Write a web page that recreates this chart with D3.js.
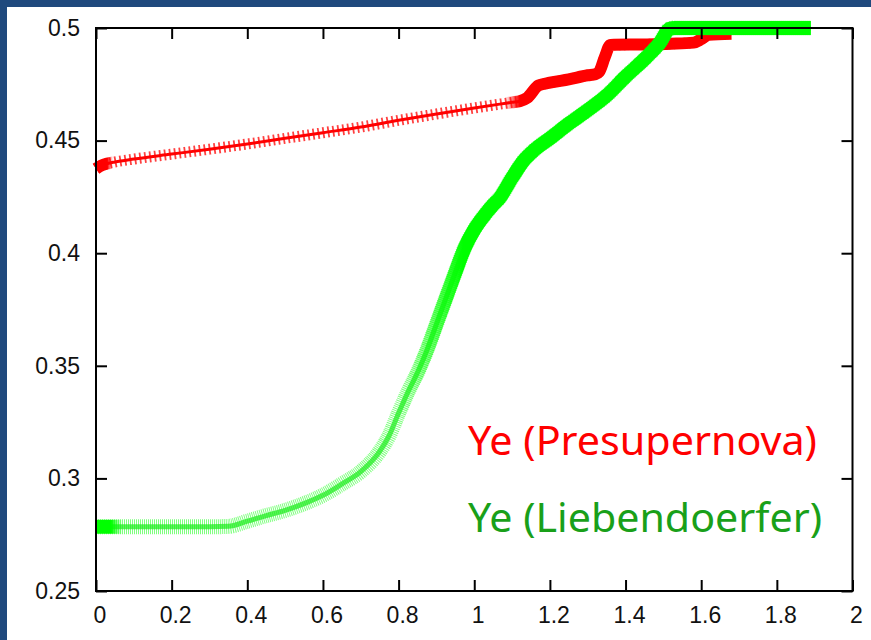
<!DOCTYPE html>
<html>
<head>
<meta charset="utf-8">
<script src="https://cdn.jsdelivr.net/npm/d3@7"></script>
<style>
  body { margin: 0; background: #ffffff; }
  #chart { width: 871px; height: 640px; }
</style>
</head>
<body>
<div id="chart"></div>
<script>
"use strict";

// Ye (Presupernova) - red "+" points
var presupX  = [0, 0.015, 0.03, 0.05, 0.1, 0.2, 0.3, 0.4, 0.5, 0.6, 0.7, 0.8, 0.9, 1.0, 1.1, 1.12, 1.14, 1.17, 1.2, 1.25, 1.3, 1.32, 1.33, 1.345, 1.36, 1.45, 1.52, 1.58, 1.6, 1.62, 1.68];
var presupYe = [0.4375, 0.4390, 0.4398, 0.4405, 0.4418, 0.4440, 0.4462, 0.4485, 0.4510, 0.4535, 0.4560, 0.4590, 0.4618, 0.4645, 0.4670, 0.4675, 0.4690, 0.4745, 0.4757, 0.4772, 0.4790, 0.4795, 0.4805, 0.4870, 0.4925, 0.4927, 0.4930, 0.4935, 0.4950, 0.4970, 0.4975];

// Ye (Liebendoerfer) - green "x" points
var liebX  = [0, 0.04, 0.1, 0.2, 0.3, 0.35, 0.4, 0.45, 0.5, 0.55, 0.6, 0.65, 0.7, 0.75, 0.775, 0.8, 0.825, 0.85, 0.875, 0.9, 0.925, 0.95, 0.975, 1.0, 1.03, 1.05, 1.067, 1.1, 1.13, 1.16, 1.2, 1.25, 1.3, 1.35, 1.4, 1.455, 1.49, 1.516, 1.53, 1.7, 1.89];
var liebYe = [0.2785, 0.2785, 0.2785, 0.2785, 0.2785, 0.2787, 0.2810, 0.2835, 0.2858, 0.2888, 0.2925, 0.2975, 0.3030, 0.3120, 0.3190, 0.3290, 0.3385, 0.3470, 0.3570, 0.3685, 0.3800, 0.3915, 0.4025, 0.4105, 0.4175, 0.4215, 0.4245, 0.4335, 0.4410, 0.4460, 0.4510, 0.4575, 0.4635, 0.4700, 0.4784, 0.4870, 0.4933, 0.4996, 0.5, 0.5, 0.5];

var xTicks = [0, 0.2, 0.4, 0.6, 0.8, 1, 1.2, 1.4, 1.6, 1.8, 2];
var yTicks = [0.25, 0.3, 0.35, 0.4, 0.45, 0.5];

var legendLabels = ["Ye (Presupernova)", "Ye (Liebendoerfer)"];

function init() {
    draw();
};
window.onload = init;

function draw() {
    var W = 871, H = 640;
    var box = {left: 96, right: 852.5, top: 28, bottom: 591};

    var svg = d3.select("#chart")
        .append("svg")
        .attr("width", W)
        .attr("height", H);

    // slide frame: blue strip on top and left
    svg.append("rect").attr("x", 0).attr("y", 0).attr("width", W).attr("height", 7).attr("fill", "#1f497d");
    svg.append("rect").attr("x", 0).attr("y", 0).attr("width", 7).attr("height", H).attr("fill", "#1f497d");

    var x = d3.scaleLinear().domain([0, 2]).range([box.left, box.right]);
    var y = d3.scaleLinear().domain([0.25, 0.5]).range([box.bottom, box.top]);

    var presup = presupX.map(function(v, i) { return {x: v, y: presupYe[i]}; });
    var lieb = liebX.map(function(v, i) { return {x: v, y: liebYe[i]}; });

    var line = d3.line()
        .x(function(d) { return x(d.x); })
        .y(function(d) { return y(d.y); })
        .curve(d3.curveMonotoneX);

    // gradients so that the point density fades in (markers pile up on steep parts)
    var defs = svg.append("defs");
    function fade(id, color, stops) {
        var gr = defs.append("linearGradient")
            .attr("id", id)
            .attr("gradientUnits", "userSpaceOnUse")
            .attr("x1", 0).attr("x2", W).attr("y1", 0).attr("y2", 0);
        stops.forEach(function(s) {
            gr.append("stop")
                .attr("offset", x(s[0]) / W)
                .attr("stop-color", color)
                .attr("stop-opacity", s[1]);
        });
    }
    fade("redDense", "#ff0000", [[0, 1], [0.03, 1], [0.045, 0], [1.08, 0], [1.12, 1]]);
    fade("greenDense", "#00ff00", [[0, 1], [0.04, 1], [0.07, 0], [0.8, 0], [0.97, 1]]);

    // red series
    var g = svg.append("g");
    g.append("path")
        .datum(presup)
        .attr("d", line)
        .attr("fill", "none")
        .attr("stroke", "#ff0000")
        .attr("stroke-opacity", 0.75)
        .attr("stroke-width", 11)
        .attr("stroke-dasharray", "1.8 3.2");
    g.append("path")
        .datum(presup)
        .attr("d", line)
        .attr("fill", "none")
        .attr("stroke", "#ff0000")
        .attr("stroke-width", 3);
    g.append("path")
        .datum(presup)
        .attr("d", line)
        .attr("fill", "none")
        .attr("stroke", "url(#redDense)")
        .attr("stroke-width", 12);

    // green series
    var g2 = svg.append("g");
    g2.append("path")
        .datum(lieb)
        .attr("d", line)
        .attr("fill", "none")
        .attr("stroke", "#00ff00")
        .attr("stroke-opacity", 0.5)
        .attr("stroke-width", 15)
        .attr("stroke-dasharray", "1 1");
    g2.append("path")
        .datum(lieb)
        .attr("d", line)
        .attr("fill", "none")
        .attr("stroke", "#22ee22")
        .attr("stroke-opacity", 0.75)
        .attr("stroke-width", 5);
    g2.append("path")
        .datum(lieb)
        .attr("d", line)
        .attr("fill", "none")
        .attr("stroke", "url(#greenDense)")
        .attr("stroke-width", 14);

    // axes, ticks pointing inside on all four sides
    var tick = 11;
    var fontAxis = "'Liberation Sans', Arial, sans-serif";

    var bottom = svg.append("g")
        .attr("transform", "translate(0," + box.bottom + ")")
        .call(d3.axisBottom(x).tickValues(xTicks).tickSizeInner(-tick).tickSizeOuter(0).tickPadding(16)
              .tickFormat(d3.format("")));
    var top = svg.append("g")
        .attr("transform", "translate(0," + box.top + ")")
        .call(d3.axisTop(x).tickValues(xTicks).tickSizeInner(-tick).tickSizeOuter(0).tickFormat(""));
    var left = svg.append("g")
        .attr("transform", "translate(" + box.left + ",0)")
        .call(d3.axisLeft(y).tickValues(yTicks).tickSizeInner(-tick).tickSizeOuter(0).tickPadding(16)
              .tickFormat(d3.format("")));
    var right = svg.append("g")
        .attr("transform", "translate(" + box.right + ",0)")
        .call(d3.axisRight(y).tickValues(yTicks).tickSizeInner(-tick).tickSizeOuter(0).tickFormat(""));

    [bottom, top, left, right].forEach(function(a) {
        a.select(".domain").remove();
        a.selectAll("line").attr("stroke", "#000").attr("stroke-width", 2);
        a.selectAll("text")
            .attr("fill", "#111")
            .style("font-family", fontAxis)
            .style("font-size", "23px");
    });
    bottom.selectAll("text").attr("x", 3.5);

    svg.append("rect")
        .attr("x", box.left)
        .attr("y", box.top)
        .attr("width", box.right - box.left)
        .attr("height", box.bottom - box.top)
        .attr("fill", "none")
        .attr("stroke", "#000")
        .attr("stroke-width", 2);

    // legend text
    var legendColors = ["#ff0000", "#19a019"];
    var legendY = [455, 532];
    var legendW = [349, 354];
    svg.selectAll(".legend")
        .data(legendLabels)
        .join("text")
        .attr("class", "legend")
        .attr("x", 468)
        .attr("y", function(d, i) { return legendY[i]; })
        .attr("textLength", function(d, i) { return legendW[i]; })
        .attr("lengthAdjust", "spacingAndGlyphs")
        .attr("fill", function(d, i) { return legendColors[i]; })
        .style("font-family", "'Noto Sans', 'Open Sans', sans-serif")
        .style("font-size", "40px")
        .text(function(d) { return d; });
}
</script>
</body>
</html>
